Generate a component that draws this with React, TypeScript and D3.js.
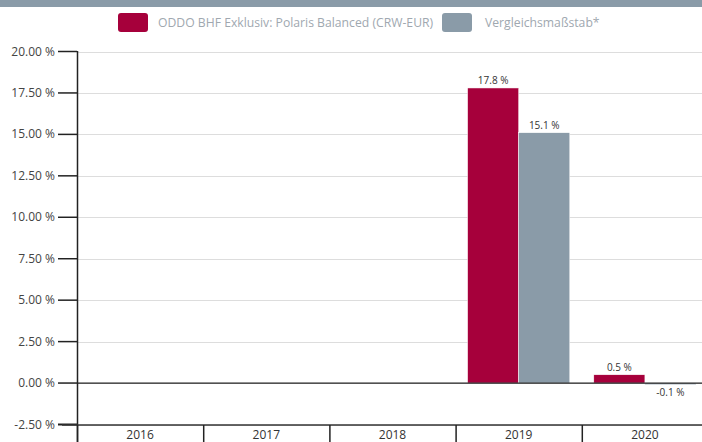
import React from "react";
import * as d3 from "d3";

const years = ["2016", "2017", "2018", "2019", "2020"];
const seriesNames = ["ODDO BHF Exklusiv: Polaris Balanced (CRW-EUR)", "Vergleichsmaßstab*"];
const fundValues: (number | null)[] = [null, null, null, 17.8, 0.5];
const benchValues: (number | null)[] = [null, null, null, 15.1, -0.1];
const yTicks = [-2.5, 0, 2.5, 5, 7.5, 10, 12.5, 15, 17.5, 20];
const colors = ["#a6003b", "#8a9ba8"];

const W = 702;
const H = 442;
const font = "'Open Sans', 'DejaVu Sans', sans-serif";

export default function App() {
  const y = d3.scaleLinear().domain([-2.5, 20]).range([424.5, 51.5]);
  const x = d3.scaleBand<string>().domain(years).range([77, 708]).paddingInner(0).paddingOuter(0);
  const inner = d3.scaleBand<string>().domain(["0", "1"]).range([0, x.bandwidth()]).paddingInner(0).paddingOuter(0.235);
  const fmt = (v: number) => v.toFixed(2) + " %";
  const series = [fundValues, benchValues];

  return (
    <svg width={W} height={H} style={{ position: "absolute", left: 0, top: 0, fontFamily: font }}>
      <rect x={0} y={0} width={W} height={7} fill="#8a9ba8" />
      {/* legend */}
      <g>
        <rect x={118} y={13} width={30} height={19} rx={3} fill={colors[0]} />
        <text x={158} y={27} fontSize={12.2} fill="#a0a8b0">{seriesNames[0]}</text>
        <rect x={442} y={13} width={30} height={19} rx={3} fill={colors[1]} />
        <text x={485} y={27} fontSize={12.2} fill="#a0a8b0">{seriesNames[1]}</text>
      </g>
      {/* grid */}
      {yTicks.map((t) => (
        <line key={"g" + t} x1={77} x2={W} y1={Math.round(y(t)) + 0.5} y2={Math.round(y(t)) + 0.5} stroke="#dddddd" strokeWidth={1} />
      ))}
      {/* bars */}
      {series.map((vals, si) =>
        vals.map((v, i) => {
          if (v === null) return null;
          const bx = (x(years[i]) as number) + (inner(String(si)) as number);
          const bw = inner.bandwidth();
          const y0 = y(0);
          const y1 = y(v);
          return (
            <g key={si + "-" + i}>
              <rect x={bx} y={Math.min(y0, y1)} width={bw} height={Math.max(Math.abs(y1 - y0), 1.5)} fill={colors[si]} stroke="#fff" strokeWidth={0.5} />
              <text x={bx + bw / 2} y={v >= 0 ? y1 - 4 : y0 + 13} textAnchor="middle" fontSize={10} fill="#333">
                {v.toFixed(1) + " %"}
              </text>
            </g>
          );
        })
      )}
      {/* zero line */}
      <line x1={77} x2={W} y1={y(0)} y2={y(0)} stroke="#222" strokeWidth={1.2} />
      {/* y axis */}
      <line x1={77.5} x2={77.5} y1={51} y2={H} stroke="#222" strokeWidth={1.5} />
      {yTicks.map((t) => (
        <g key={"t" + t}>
          <line x1={58} x2={77} y1={y(t)} y2={y(t)} stroke="#222" strokeWidth={t === -2.5 ? 2 : 1.5} />
          <text x={55} y={y(t) + 4} textAnchor="end" fontSize={12} fill="#444">{fmt(t)}</text>
        </g>
      ))}
      {/* bottom axis */}
      <line x1={62} x2={W} y1={425} y2={425} stroke="#333" strokeWidth={1.5} />
      {years.map((yr) => (
        <g key={"c" + yr}>
          <line x1={(x(yr) as number) + 0.5} x2={(x(yr) as number) + 0.5} y1={425} y2={H} stroke="#222" strokeWidth={1.5} />
          <text x={(x(yr) as number) + x.bandwidth() / 2} y={439} textAnchor="middle" fontSize={12} fill="#333">{yr}</text>
        </g>
      ))}
    </svg>
  );
}
